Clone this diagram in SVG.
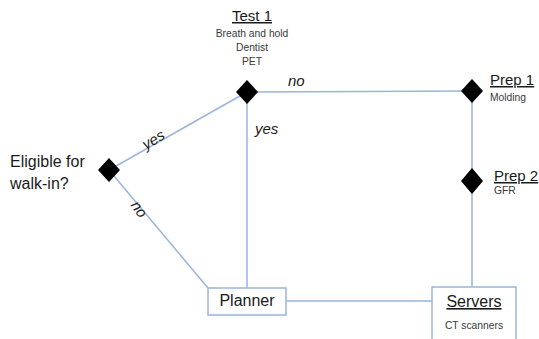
<svg xmlns="http://www.w3.org/2000/svg" width="539" height="339" viewBox="0 0 539 339">
  <style>
    text { font-family: "Liberation Sans", Arial, sans-serif; fill: #1a1a1a; }
    .title { font-size: 15px; text-decoration: underline; }
    .big { font-size: 16px; }
    .small { font-size: 10.3px; fill: #3a3a3a; }
    .lbl { font-size: 15px; font-style: italic; }
    .link { stroke: #9ab5db; stroke-width: 1.5; fill: none; }
    .box { fill: #ffffff; stroke: #9ab5db; stroke-width: 1.5; }
    .dia { fill: #000000; }
  </style>

  <!-- connectors -->
  <g id="connectors">
    <line class="link" x1="109" y1="170" x2="247" y2="92"/>
    <line class="link" x1="109" y1="170" x2="208" y2="288"/>
    <line class="link" x1="247" y1="92" x2="247" y2="288"/>
    <line class="link" x1="247" y1="92" x2="472" y2="91"/>
    <line class="link" x1="472" y1="91" x2="472" y2="287"/>
    <line class="link" x1="286" y1="301" x2="432" y2="301"/>
    <text class="lbl" transform="translate(156,144) rotate(-31)" text-anchor="middle">yes</text>
    <text class="lbl" x="255" y="134">yes</text>
    <text class="lbl" x="288" y="86">no</text>
    <text class="lbl" transform="translate(135,212) rotate(55)" text-anchor="middle">no</text>
  </g>

  <g id="eligible">
    <polygon class="dia" points="109,158 120,170 109,182 98,170"/>
    <text class="big" x="10" y="167">Eligible for</text>
    <text class="big" x="10" y="189">walk-in?</text>
  </g>

  <g id="test1">
    <polygon class="dia" points="247,80 258,92 247,104 236,92"/>
    <text class="title" x="252" y="21" text-anchor="middle">Test 1</text>
    <text class="small" x="252" y="37" text-anchor="middle">Breath and hold</text>
    <text class="small" x="252" y="51" text-anchor="middle">Dentist</text>
    <text class="small" x="252" y="65" text-anchor="middle">PET</text>
  </g>

  <g id="prep1">
    <polygon class="dia" points="472,79 483,91 472,103 461,91"/>
    <text class="title" x="490" y="85">Prep 1</text>
    <text class="small" x="490" y="101">Molding</text>
  </g>

  <g id="prep2">
    <polygon class="dia" points="472,168 483,181 472,194 461,181"/>
    <text class="title" x="494" y="181">Prep 2</text>
    <text class="small" x="494" y="194">GFR</text>
  </g>

  <g id="planner">
    <rect class="box" x="208" y="288" width="78" height="27"/>
    <text class="big" x="247" y="306" text-anchor="middle">Planner</text>
  </g>

  <g id="servers">
    <rect class="box" x="432" y="287" width="84" height="55"/>
    <text class="title" x="474" y="307" text-anchor="middle" style="font-size:16px">Servers</text>
    <text class="small" x="474" y="329" text-anchor="middle">CT scanners</text>
  </g>
</svg>
